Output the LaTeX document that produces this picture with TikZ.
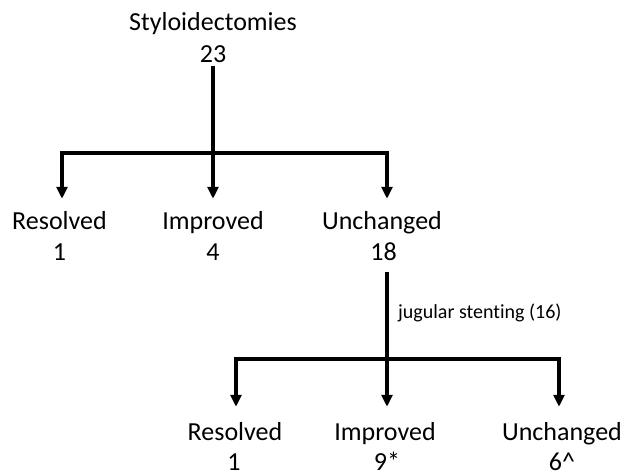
\documentclass[tikz,border=0pt]{standalone}
\usepackage{fontspec}
\setmainfont{Carlito}[Ligatures=NoCommon]
\usetikzlibrary{arrows.meta}
\begin{document}
\begin{tikzpicture}[x=1pt,y=-1pt,
  lbl/.style={inner sep=0pt, anchor=base, font=\fontsize{26}{31}\selectfont},
  small/.style={inner sep=0pt, anchor=base west, font=\fontsize{20}{24}\selectfont},
  conn/.style={line width=3.2pt, line join=miter, line cap=butt},
  arr/.style={conn, -{Triangle[length=12pt,width=11pt]}}]
\useasboundingbox (0,0) rectangle (624,475);
% top
\node[lbl] (sty) at (213,30) {Styloidectomies};
\node[lbl] (n23) at (213,62) {23};
% level 1
\node[lbl] (res1) at (59.5,229) {Resolved};
\node[lbl] (res1n) at (59.5,260) {1};
\node[lbl] (imp1) at (213,229) {Improved};
\node[lbl] (imp1n) at (213,260) {4};
\node[lbl] (unc1) at (382,229) {Unchanged};
\node[lbl] (unc1n) at (383.5,260) {18};
% level 2
\node[lbl] (res2) at (235,440) {Resolved};
\node[lbl] (res2n) at (234,470.5) {1};
\node[lbl] (imp2) at (385,440) {Improved};
\node[lbl] (imp2n) at (387,470.5) {9*};
\node[lbl] (unc2) at (562,440) {Unchanged};
\node[lbl] (unc2n) at (562,470.5) {6\textasciicircum};
\node[small] (jug) at (398,318) {jugular stenting (16)};
% junctions
\coordinate (j1) at (213,153);
\coordinate (j2) at (387,359);
% connectors level 1
\draw[conn] ([yshift=-4pt]n23.south) -- (j1);
\draw[arr] (j1) -| ([xshift=2.5pt,yshift=12pt]res1.north);
\draw[arr] (j1) -- ([yshift=12pt]imp1.north);
\draw[arr] (j1) -| ([xshift=5pt,yshift=12pt]unc1.north);
% connectors level 2
\draw[conn] ([xshift=3.5pt,yshift=-12pt]unc1n.south) -- (j2);
\draw[arr] (j2) -| ([xshift=1pt,yshift=15pt]res2.north);
\draw[arr] (j2) -- ([xshift=2pt,yshift=15pt]imp2.north);
\draw[arr] (j2) -| ([xshift=-3pt,yshift=15pt]unc2.north);
\end{tikzpicture}
\end{document}
